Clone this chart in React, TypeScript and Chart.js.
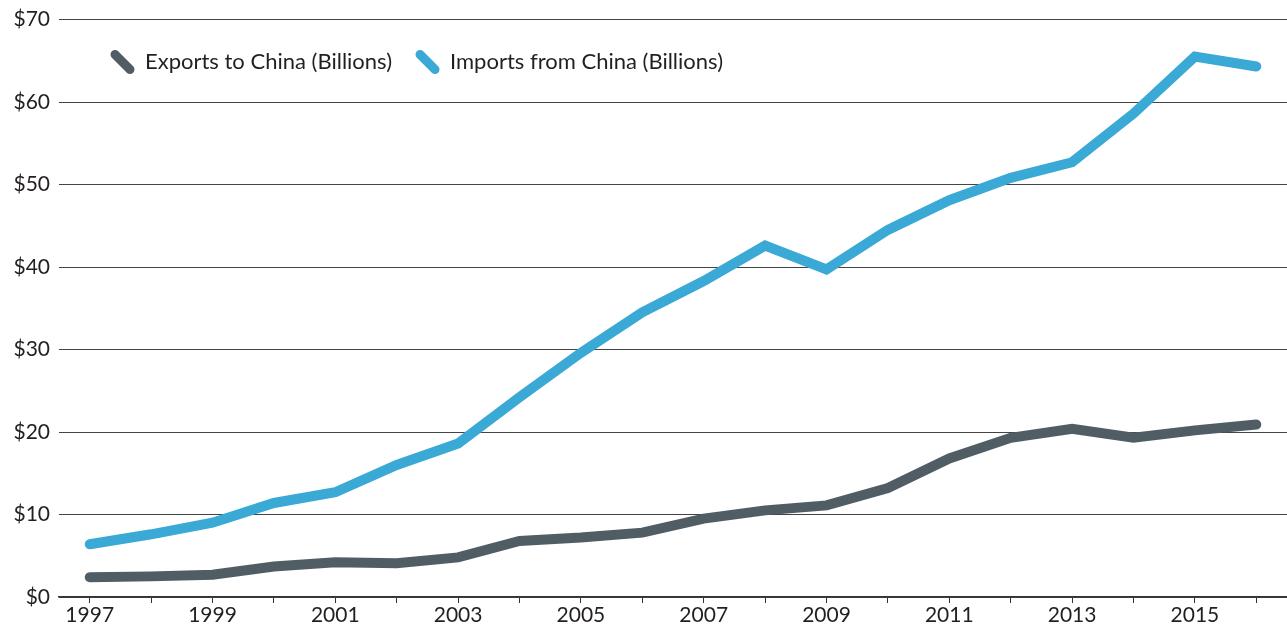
import React, { useEffect, useRef } from "react";
import { Chart, registerables } from "chart.js";

Chart.register(...registerables);

const years = ["1997","1998","1999","2000","2001","2002","2003","2004","2005","2006","2007","2008","2009","2010","2011","2012","2013","2014","2015","2016"];
const exportsToChina = [2.4,2.5,2.7,3.7,4.2,4.1,4.8,6.8,7.2,7.8,9.5,10.5,11.1,13.2,16.8,19.3,20.4,19.3,20.2,20.9];
const importsFromChina = [6.4,7.6,9.0,11.4,12.7,16.0,18.6,24.2,29.6,34.5,38.3,42.6,39.7,44.5,48.1,50.8,52.7,58.6,65.5,64.3];
const seriesLabels = ["Exports to China (Billions)", "Imports from China (Billions)"];
const seriesColors = ["#515d65", "#3aa9d6"];

const FONT = "Lato, 'Open Sans', sans-serif";
const FONT_SIZE = 21;

const legendPlugin = {
  id: "customLegend",
  afterDraw(chart: any) {
    const ctx = chart.ctx;
    const area = chart.chartArea;
    ctx.save();
    ctx.font = `22px ${FONT}`;
    ctx.textBaseline = "middle";
    ctx.textAlign = "left";
    let x = area.left + 56;
    const y = area.top + 42;
    chart.data.datasets.forEach((ds: any) => {
      ctx.strokeStyle = ds.borderColor;
      ctx.lineWidth = 9;
      ctx.lineCap = "round";
      ctx.beginPath();
      ctx.moveTo(x, y - 7);
      ctx.lineTo(x + 15, y + 8);
      ctx.stroke();
      ctx.fillStyle = "#231f20";
      ctx.fillText(ds.label, x + 30, y);
      x += 30 + ctx.measureText(ds.label).width + 28;
    });
    ctx.restore();
  },
};

export default function App() {
  const ref = useRef<HTMLCanvasElement | null>(null);
  useEffect(() => {
    document.body.style.margin = "0";
    if (!ref.current) return;
    const chart = new Chart(ref.current, {
      type: "line",
      data: {
        labels: years,
        datasets: [
          {
            label: seriesLabels[0],
            data: exportsToChina,
            borderColor: seriesColors[0],
            backgroundColor: seriesColors[0],
            borderWidth: 10,
            pointRadius: 0,
            borderCapStyle: "round",
            borderJoinStyle: "miter",
            tension: 0,
          },
          {
            label: seriesLabels[1],
            data: importsFromChina,
            borderColor: seriesColors[1],
            backgroundColor: seriesColors[1],
            borderWidth: 10,
            pointRadius: 0,
            borderCapStyle: "round",
            borderJoinStyle: "miter",
            tension: 0,
          },
        ],
      },
      options: {
        animation: false,
        responsive: false,
        maintainAspectRatio: false,
        layout: { padding: { top: 4, left: 0, right: 0, bottom: 0 } },
        plugins: { legend: { display: false }, tooltip: { enabled: false } },
        scales: {
          x: {
            offset: true,
            grid: { drawOnChartArea: false, drawTicks: true, tickLength: 6, color: "#333" },
            border: { color: "#333", width: 1.5 },
            afterFit: (scale: any) => { scale.height = 29; },
            ticks: {
              autoSkip: false,
              maxRotation: 0,
              color: "#231f20",
              font: { family: FONT, size: FONT_SIZE },
              padding: 0,
              callback: (_v: any, i: number) => (i % 2 === 0 ? years[i] : ""),
            },
          },
          y: {
            min: 0,
            max: 70,
            grid: { drawTicks: false, color: "#444", lineWidth: 1 },
            border: { display: false },
            afterFit: (scale: any) => { scale.width = 59; },
            ticks: {
              stepSize: 10,
              padding: 9,
              color: "#231f20",
              font: { family: FONT, size: FONT_SIZE, lineHeight: 1.0 },
              callback: (v: any) => "$" + v,
            },
          },
        },
      },
      plugins: [legendPlugin],
    });
    return () => chart.destroy();
  }, []);
  return (
    <div style={{ width: 1287, height: 626 }}>
      <canvas ref={ref} width={1287} height={626} style={{ display: "block" }} />
    </div>
  );
}
